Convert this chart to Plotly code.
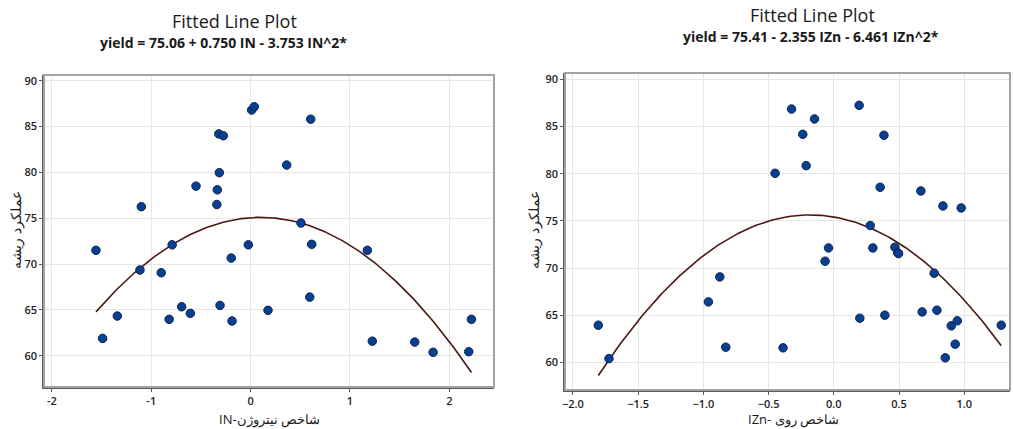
import numpy as np
import plotly.graph_objects as go

# ---- data ----
in_x = [-1.557, -1.49, -1.342, -1.114, -1.10, -0.90, -0.82, -0.79, -0.694, -0.607,
        -0.55, -0.34, -0.335, -0.32, -0.315, -0.308, -0.275, -0.195, -0.187, -0.023,
        0.01, 0.037, 0.175, 0.363, 0.507, 0.595, 0.605, 0.615, 1.175, 1.225,
        1.652, 1.837, 2.196, 2.223]
in_y = [71.5, 61.9, 64.34, 69.36, 76.26, 69.06, 63.98, 72.1, 65.35, 64.63,
        78.5, 76.5, 78.1, 84.2, 79.97, 65.5, 84.0, 70.66, 63.8, 72.1,
        86.8, 87.16, 64.96, 80.8, 74.48, 66.4, 85.8, 72.16, 71.5, 61.6,
        61.5, 60.38, 60.45, 63.98]

izn_x = [-1.805, -1.723, -0.961, -0.874, -0.828, -0.45, -0.389, -0.324, -0.238, -0.212,
         -0.148, -0.067, -0.041, 0.194, 0.199, 0.279, 0.299, 0.355, 0.384, 0.391,
         0.468, 0.49, 0.496, 0.667, 0.677, 0.769, 0.79, 0.836, 0.854, 0.9,
         0.93, 0.946, 0.976, 1.283]
izn_y = [63.94, 60.4, 66.41, 69.06, 61.61, 80.04, 61.54, 86.85, 84.17, 80.85,
         85.8, 70.72, 72.13, 87.24, 64.68, 74.5, 72.13, 78.56, 84.07, 65.0,
         72.2, 71.6, 71.53, 78.17, 65.35, 69.45, 65.53, 76.58, 60.48, 63.87,
         61.93, 64.4, 76.37, 63.94]

in_coef = [75.06, 0.750, -3.753]      # b0, b1, b2
izn_coef = [75.41, -2.355, -6.461]

y_ticks = [60, 65, 70, 75, 80, 85, 90]
in_ticks = [-2, -1, 0, 1, 2]
izn_ticks = [-2.0, -1.5, -1.0, -0.5, 0.0, 0.5, 1.0]

titles = ["Fitted Line Plot", "Fitted Line Plot"]
subtitles = ["yield = 75.06 + 0.750 IN - 3.753 IN^2*",
             "yield = 75.41 - 2.355 IZn - 6.461 IZn^2*"]
x_titles = ["IN-شاخص نیتروژن", "IZn- شاخص روی"]
y_title = "عملکرد ریشه"

# ---- figure ----
W, H = 1013, 429
FONT = "Open Sans"
MARK = "#08408f"
MARK_EDGE = "#0a2458"
LINE = "#4a1812"


def fit(coef, xs):
    xx = np.linspace(min(xs), max(xs), 200)
    return xx, coef[0] + coef[1] * xx + coef[2] * xx ** 2


fig = go.Figure()
for i, (xs, ys, coef) in enumerate([(in_x, in_y, in_coef), (izn_x, izn_y, izn_coef)]):
    xa = "x" if i == 0 else "x2"
    ya = "y" if i == 0 else "y2"
    fx, fy = fit(coef, xs)
    fig.add_trace(go.Scatter(x=fx, y=fy, mode="lines", xaxis=xa, yaxis=ya,
                             line=dict(color=LINE, width=1.6), showlegend=False,
                             hoverinfo="skip"))
    fig.add_trace(go.Scatter(x=xs, y=ys, mode="markers", xaxis=xa, yaxis=ya,
                             marker=dict(size=8.5, color=MARK,
                                         line=dict(color=MARK_EDGE, width=1)),
                             showlegend=False))

tickfont = dict(family=FONT, size=11, color="#1e1e1e", weight=600)
common_x = dict(showgrid=True, gridcolor="#e6e6e6", gridwidth=1.2, zeroline=False,
                showline=True, linecolor="#5a5a5a", linewidth=1.5,
                ticks="outside", ticklen=3, tickcolor="#5a5a5a", tickwidth=1,
                tickfont=tickfont, automargin=False)
common_y = dict(common_x)

fig.update_layout(
    width=W, height=H,
    margin=dict(l=0, r=0, t=0, b=0),
    paper_bgcolor="white", plot_bgcolor="white",
    xaxis=dict(common_x, domain=[44 / W, 494 / W], range=[-2.08, 2.45],
               tickvals=in_ticks, ticktext=[str(v) for v in in_ticks], anchor="y"),
    yaxis=dict(common_y, domain=[(H - 387) / H, (H - 75) / H], range=[56.6, 90.62],
               tickvals=y_ticks, anchor="x"),
    xaxis2=dict(common_x, domain=[565 / W, 1010 / W], range=[-2.06, 1.35],
                tickvals=izn_ticks, tickformat=".1f", anchor="y2"),
    yaxis2=dict(common_y, domain=[(H - 390) / H, (H - 73) / H], range=[57.07, 90.67],
                tickvals=y_ticks, anchor="x2"),
)

# frame (top/right lighter border)
for xr, yr in [("x", "y"), ("x2", "y2")]:
    fig.add_shape(type="rect", xref=f"{xr} domain", yref=f"{yr} domain",
                  x0=0, x1=1, y0=0, y1=1, line=dict(color="#a3a3a3", width=2),
                  layer="above")

ann = []
# titles
title_pos = [(234, 21, 223, 42), (812, 15, 811, 37)]
for t, s, (tx, ty, sx, sy) in zip(titles, subtitles, title_pos):
    ann.append(dict(text=t, x=tx / W, y=1 - ty / H, xref="paper", yref="paper",
                    showarrow=False, xanchor="center", yanchor="middle",
                    font=dict(family=FONT, size=18, color="#1a1a1a")))
    ann.append(dict(text=s, x=sx / W, y=1 - sy / H, xref="paper", yref="paper",
                    showarrow=False, xanchor="center", yanchor="middle",
                    font=dict(family=FONT, size=14, color="#1a1a1a", weight=700)))
# axis titles
for t, cx in zip(x_titles, [269, 793]):
    ann.append(dict(text=t, x=cx / W, y=1 - 419 / H, xref="paper", yref="paper",
                    showarrow=False, xanchor="center", yanchor="middle",
                    font=dict(family=FONT, size=13, color="#1a1a1a")))
for cx, cy in [(15, 230), (533, 230)]:
    ann.append(dict(text=y_title, x=cx / W, y=1 - cy / H, xref="paper", yref="paper",
                    showarrow=False, xanchor="center", yanchor="middle", textangle=-90,
                    font=dict(family=FONT, size=14, color="#1a1a1a")))
fig.update_layout(annotations=ann)

fig.write_html("out.html", config={"displayModeBar": False},
               post_script="document.body.style.margin='0';document.body.style.overflow='hidden';")
